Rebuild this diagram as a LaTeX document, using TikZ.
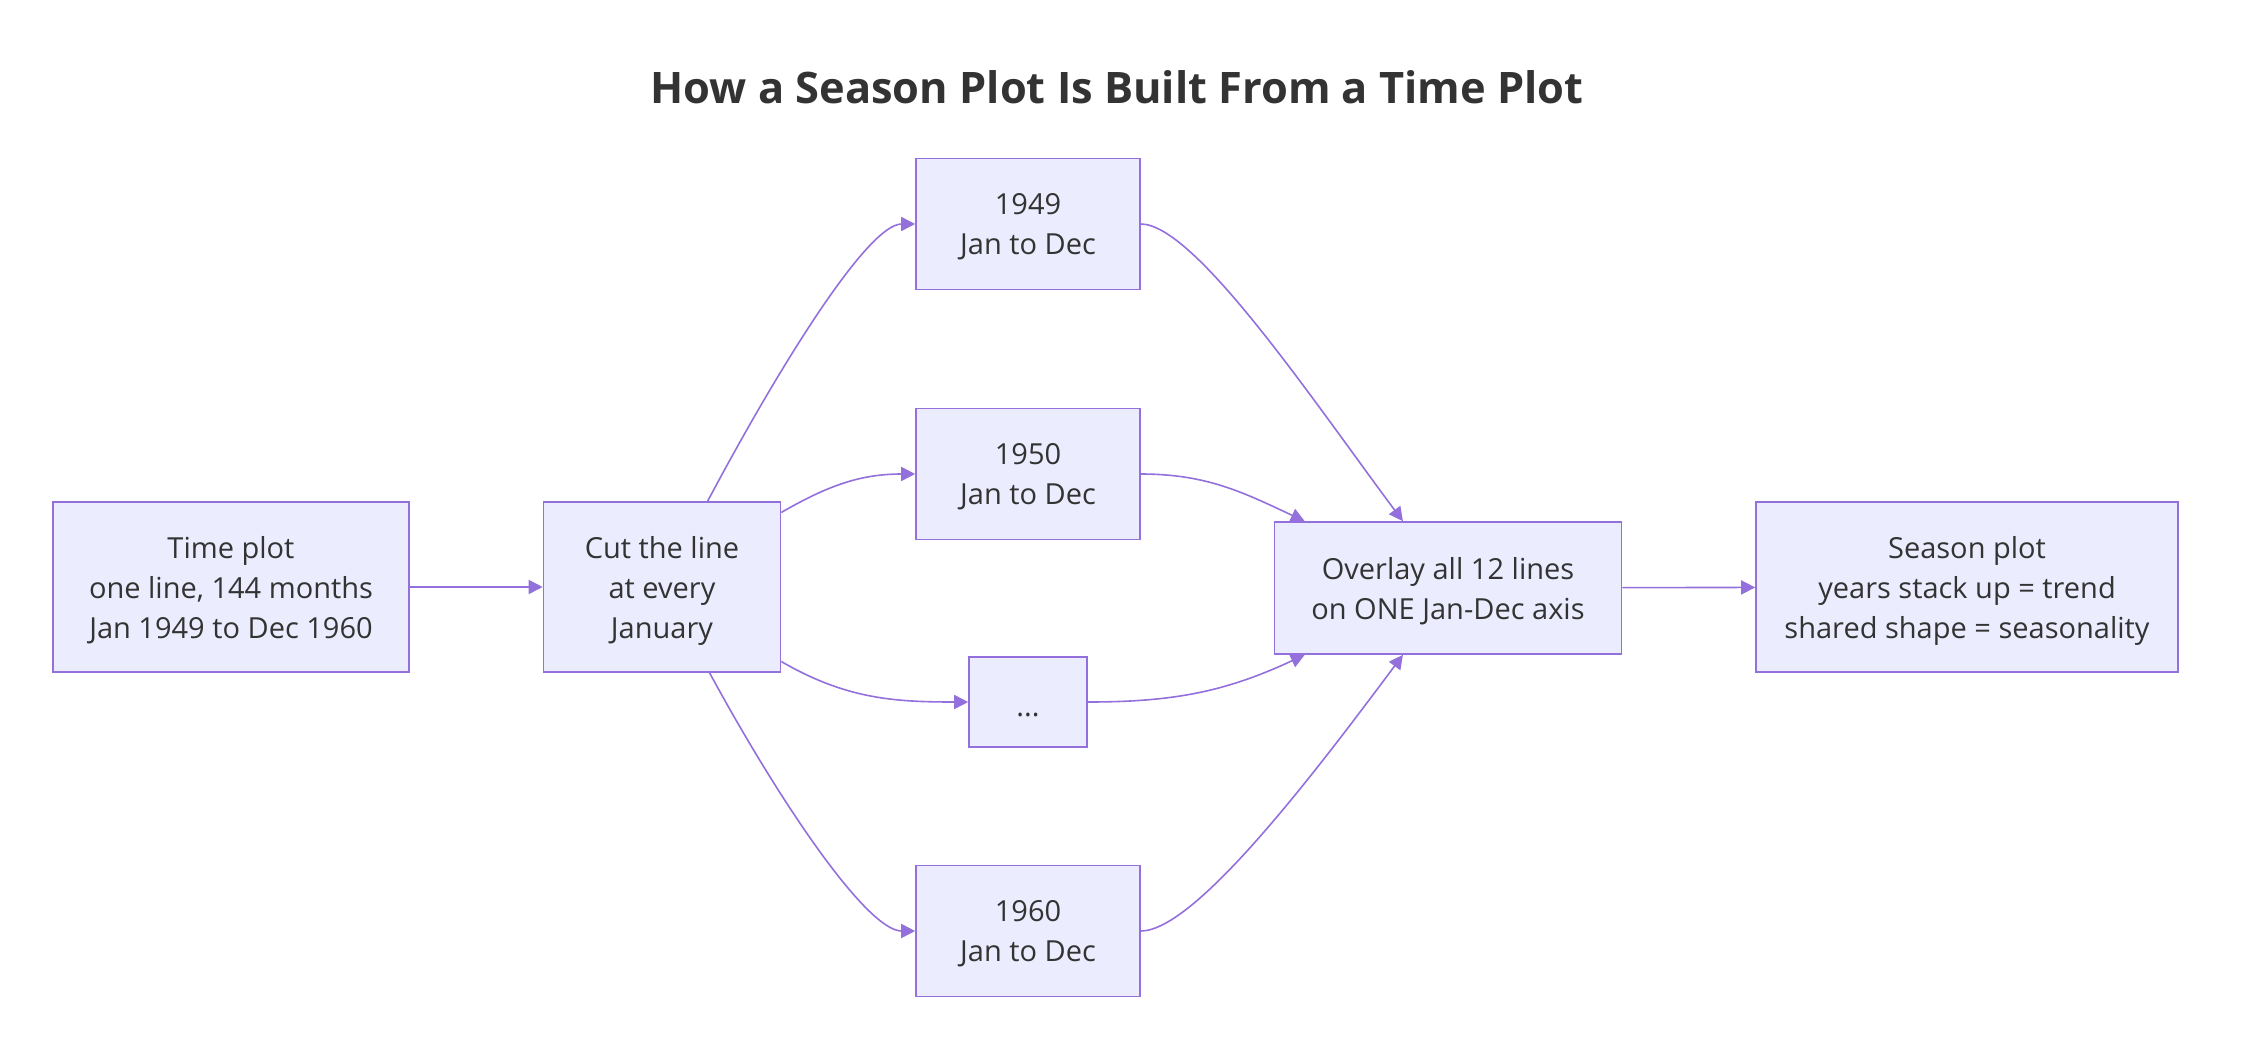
\documentclass[tikz,border=0pt]{standalone}
\usepackage{fontspec}
\setmainfont{Open Sans}
\usetikzlibrary{arrows.meta}
\definecolor{boxfill}{HTML}{ECECFF}
\definecolor{boxline}{HTML}{9370DB}
\definecolor{txt}{HTML}{333333}
\tikzset{
  stage/.style={draw=boxline,fill=boxfill,line width=0.8pt,text=txt,align=center,
    font=\fontsize{14.5}{20}\selectfont,inner sep=0pt,
    execute at end node=\strut,text depth=-1pt},
  flow/.style={draw=boxline,line width=0.8pt,-{Triangle[length=7pt,width=7pt]}},
}
\begin{document}
\begin{tikzpicture}[x=0.5pt,y=-0.5pt]
                \useasboundingbox (0,0) rectangle (2248,1060);
                %% title
                \node[text=txt,font=\fontsize{21.7}{26}\bfseries] (title) at (1117,87) {How a Season Plot Is Built From a Time Plot};
                %% boxes
                \node[stage,minimum width=178pt,minimum height=85pt] (timeplot) at (231,587) {Time plot\\one line, 144 months\\Jan 1949 to Dec 1960};
                \node[stage,minimum width=118.5pt,minimum height=85pt] (cut) at (662,587) {Cut the line\\at every\\January};
                \node[stage,minimum width=112pt,minimum height=65.5pt] (y49) at (1028,224) {1949\\Jan to Dec};
                \node[stage,minimum width=112pt,minimum height=65.5pt] (y50) at (1028,474) {1950\\Jan to Dec};
                \node[stage,minimum width=59pt,minimum height=45pt,execute at end node={},text depth=0pt] (dots) at (1028,702) {...};
                \node[stage,minimum width=112pt,minimum height=65.5pt] (y60) at (1028,931) {1960\\Jan to Dec};
                \node[stage,minimum width=173.5pt,minimum height=66pt] (overlay) at (1448,588) {Overlay all 12 lines\\on ONE Jan-Dec axis};
                \node[stage,minimum width=211pt,minimum height=85pt] (season) at (1967,587) {Season plot\\years stack up = trend\\shared shape = seasonality};
                %% split into years
                \draw[flow] (timeplot) -- (cut);
                \draw[flow] (cut.62) .. controls (780,365) and (868,224) .. (y49.west);
                \draw[flow] (cut.32) to[out=30,in=180] (y50.west);
                \draw[flow] (cut.-32) to[out=-30,in=180] (dots.west);
                \draw[flow] (cut.-61) .. controls (783,808) and (868,931) .. (y60.west);
                %% stack the years
                \draw[flow] (y49.east) .. controls (1195,224) and (1314,402) .. (overlay.124);
                \draw[flow] (y50.east) to[out=0,in=155] (overlay.155);
                \draw[flow] (dots.east) to[out=0,in=205] (overlay.205);
                \draw[flow] (y60.east) .. controls (1195,931) and (1314,774) .. (overlay.236);
                \draw[flow] (overlay) -- (season);
            \end{tikzpicture}
\end{document}
